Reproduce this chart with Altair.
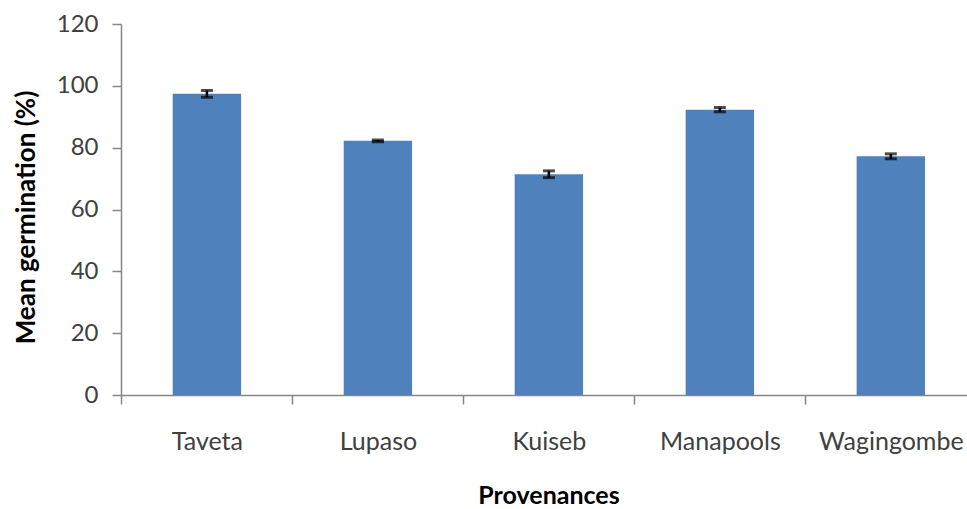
import altair as alt
import pandas as pd

provenances = ["Taveta", "Lupaso", "Kuiseb", "Manapools", "Wagingombe"]
mean_germination = [97.4, 82.2, 71.4, 92.3, 77.2]
std_error = [1.1, 0.3, 1.1, 0.7, 0.8]
y_ticks = [0, 20, 40, 60, 80, 100, 120]

df = pd.DataFrame({
    "Provenance": provenances,
    "Mean": mean_germination,
    "SE": std_error,
})
df["lo"] = df["Mean"] - df["SE"]
df["hi"] = df["Mean"] + df["SE"]

FONT = "Lato"
STEP_HALF = 85.5

x_scale = alt.Scale(paddingInner=0.6, paddingOuter=0.274, align=0.552)
x_axis = alt.Axis(
    title="Provenances",
    labelAngle=0,
    labelFont=FONT, labelFontSize=25, labelColor="#404040",
    labelPadding=25,
    tickOffset=-STEP_HALF, labelOffset=STEP_HALF,
    tickSize=9, tickColor="#868686", domainColor="#868686",
    domainWidth=1.5, tickWidth=1.5,
    titleFont=FONT, titleFontSize=25, titleFontWeight="bold", titleColor="#000000",
    titlePadding=29, titleX=427.5,
)
y_axis = alt.Axis(
    title="Mean germination (%)",
    values=y_ticks, grid=False,
    labelFont=FONT, labelFontSize=24, labelColor="#404040",
    labelPadding=14,
    tickSize=9, tickColor="#868686", domainColor="#868686",
    domainWidth=1.5, tickWidth=1.5,
    titleFont=FONT, titleFontSize=26, titleFontWeight="bold", titleColor="#000000",
    titlePadding=17, titleY=193,
)

x_enc = alt.X("Provenance:N", sort=provenances, scale=x_scale, axis=x_axis)
y_scale = alt.Scale(domain=[0, 120], nice=False)

base = alt.Chart(df)

bars = base.mark_bar(color="#4F81BD").encode(
    x=x_enc,
    y=alt.Y("Mean:Q", scale=y_scale, axis=y_axis),
)

rules = base.mark_rule(color="black", strokeWidth=2.5).encode(
    x=x_enc,
    y=alt.Y("lo:Q", scale=y_scale, axis=y_axis),
    y2="hi:Q",
)

cap_lo = base.mark_tick(color="black", size=12, thickness=3).encode(
    x=x_enc,
    y=alt.Y("lo:Q", scale=y_scale, axis=y_axis),
)
cap_hi = base.mark_tick(color="black", size=12, thickness=3).encode(
    x=x_enc,
    y=alt.Y("hi:Q", scale=y_scale, axis=y_axis),
)

chart = alt.layer(bars, rules, cap_lo, cap_hi).properties(
    width=846,
    height=371,
    padding={"left": 121, "top": 24, "right": 0, "bottom": 114},
    autosize=alt.AutoSizeParams(type="none"),
    background="white",
).configure_view(stroke=None)

chart.save("out.html", embed_options={"renderer": "svg", "actions": False})
